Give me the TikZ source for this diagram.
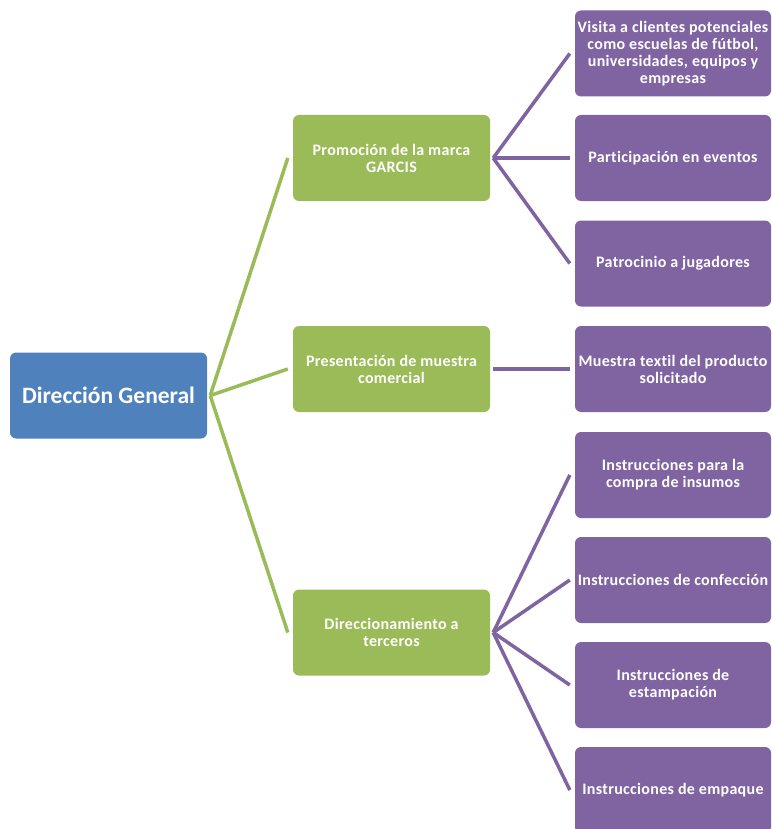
\documentclass[tikz,border=0pt]{standalone}
\usepackage{fontspec}
\setmainfont{Carlito}[Ligatures=NoCommon]
\newfontfamily\boxfont{Carlito}[Ligatures=NoCommon,LetterSpace=2]
\definecolor{dgblue}{HTML}{4F81BD}
\definecolor{dggreen}{HTML}{9BBB59}
\definecolor{dgpurple}{HTML}{8064A2}
\begin{document}
\begin{tikzpicture}[x=1pt,y=-1pt,
  boxbase/.style={rounded corners=6pt, text=white, font=\bfseries, align=center, inner sep=0pt, minimum height=86pt},
  bluebox/.style={boxbase, fill=dgblue, minimum width=197pt, font=\bfseries\fontsize{23.5}{26}\selectfont},
  greenbox/.style={boxbase, fill=dggreen, minimum width=197pt, font=\boxfont\bfseries\fontsize{16}{17}\selectfont},
  purplebox/.style={boxbase, fill=dgpurple, minimum width=196pt, font=\boxfont\bfseries\fontsize{16}{17}\selectfont},
  gline/.style={draw=dggreen, line width=3.5pt},
  pline/.style={draw=dgpurple, line width=3.5pt}]
\useasboundingbox (0,0) rectangle (771,829);
\node[bluebox] (dg) at (108.5,395.5) {Dirección General};
\node[greenbox] (g1) at (391.5,158) {Promoción de la marca\\GARCIS};
\node[greenbox] (g2) at (391.5,369) {Presentación de muestra\\comercial};
\node[greenbox] (g3) at (391.5,632.5) {Direccionamiento a\\terceros};
\node[purplebox] (p1) at (673,53.5) {Visita a clientes potenciales\\como escuelas de fútbol,\\universidades, equipos y\\empresas};
\node[purplebox] (p2) at (673,158) {Participación en eventos};
\node[purplebox] (p3) at (673,263.5) {Patrocinio a jugadores};
\node[purplebox] (p4) at (673,369) {Muestra textil del producto\\solicitado};
\node[purplebox] (p5) at (673,475) {Instrucciones para la\\compra de insumos};
\node[purplebox] (p6) at (673,580) {Instrucciones de confección};
\node[purplebox] (p7) at (673,685) {Instrucciones de\\estampación};
\node[purplebox] (p8) at (673,790) {Instrucciones de empaque};
% green connectors
\coordinate (dgo) at ([xshift=3pt]dg.east);
\foreach \g in {g1,g2,g3}{
  \draw[gline] (dgo) -- ([xshift=-5pt]\g.west);
}
% purple connectors
\coordinate (g1o) at ([xshift=3pt]g1.east);
\coordinate (g2o) at ([xshift=3pt]g2.east);
\coordinate (g3o) at ([xshift=3pt]g3.east);
\foreach \p in {p1,p2,p3}{
  \draw[pline] (g1o) -- ([xshift=-5pt]\p.west);
}
\draw[pline] (g2o) -- ([xshift=-5pt]p4.west);
\foreach \p in {p5,p6,p7,p8}{
  \draw[pline] (g3o) -- ([xshift=-5pt]\p.west);
}
\end{tikzpicture}
\end{document}
